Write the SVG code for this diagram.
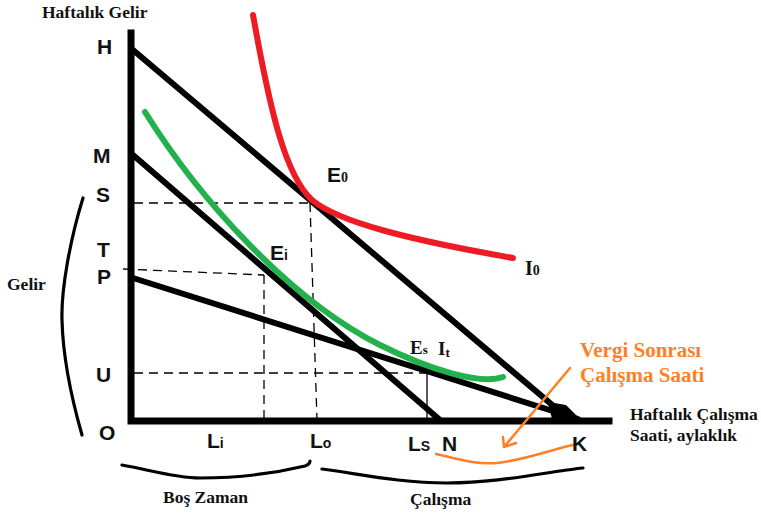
<svg xmlns="http://www.w3.org/2000/svg" width="761" height="517" viewBox="0 0 761 517">
<style>
.ax{stroke:#000;stroke-width:7;fill:none;stroke-linecap:square}
.bl{stroke:#000;stroke-width:6;fill:none;stroke-linecap:round}
.dash{stroke:#000;stroke-width:1.3;stroke-dasharray:9 6;fill:none}
.thin{stroke:#000;stroke-width:1.3;fill:none}
.brace{stroke:#000;stroke-width:3.2;fill:none;stroke-linecap:round}
.lbl{font-family:"Liberation Sans",Arial,sans-serif;font-weight:bold;font-size:21px;fill:#111}
.ser{font-family:"Liberation Serif","Times New Roman",serif;font-weight:bold;fill:#111}
.cap{font-size:17.5px}
.org{font-family:"Liberation Serif","Times New Roman",serif;font-weight:bold;font-size:21px;fill:#FF7F27}
.sub{font-size:14px}
</style>
<rect width="761" height="517" fill="#fff"/>
<g id="axes">
<path class="ax" d="M131,33 V421 H609"/>
</g>
<g id="guides">
<path class="dash" d="M134,203 H310"/>
<path class="dash" d="M310,203 L317,420"/>
<path class="dash" d="M123,269 L264,275"/>
<path class="dash" d="M264,275 V420"/>
<path class="dash" d="M134,373 H427"/>
<path class="thin" d="M427,373 V420"/>
</g>
<g id="connectors">
<path id="budget-H" class="bl" d="M133,50 L570,420"/>
<path id="budget-M" class="bl" d="M133,155 L440,420"/>
<path id="budget-P" class="bl" d="M133,278 L578,419"/>
<path d="M548,402 L566,405 L580,419 L552,419 Z" fill="#000"/>
<path id="I0" d="M253,15 C270,110 285,175 312,200 C338,222 410,240 513,258" fill="none" stroke="#ED1C24" stroke-width="6" stroke-linecap="round"/>
<path id="It" d="M145,112 C200,200 290,300 380,345 C430,370 480,385 503,377" fill="none" stroke="#22B14C" stroke-width="6" stroke-linecap="round"/>
<path id="arrow" d="M570,368 L504,447 M504,447 L503,437 M504,447 L516,443" fill="none" stroke="#FF7F27" stroke-width="2.5" stroke-linecap="round"/>
<path id="range" d="M436,454 C455,458 475,465 497,463 C525,460 550,450 573,445" fill="none" stroke="#FF7F27" stroke-width="2.5" stroke-linecap="round"/>
</g>
<g id="braces">
<path class="brace" d="M83,198 C70,240 61,290 62,320 C63,360 72,400 82,435"/>
<path class="brace" d="M122,465 C150,470 175,478 200,478 C240,478 280,472 305,466 Q310,464 310,461"/>
<path class="brace" d="M322,469 C360,474 400,483 447,483 C500,483 545,472 583,468"/>
</g>
<g id="labels">
<text class="ser cap" x="42" y="18">Haftalık Gelir</text>
<text class="lbl" x="97" y="54">H</text>
<text class="lbl" x="93" y="163">M</text>
<text class="lbl" x="96" y="202">S</text>
<text class="lbl" x="97" y="257">T</text>
<text class="lbl" x="97" y="284">P</text>
<text class="lbl" x="96" y="382">U</text>
<text class="lbl" x="99" y="440">O</text>
<text class="ser cap" x="7" y="290">Gelir</text>
<text class="lbl" x="207" y="448">L<tspan class="sub">i</tspan></text>
<text class="lbl" x="310" y="448">L<tspan class="sub">o</tspan></text>
<text class="lbl" x="408" y="451">L<tspan class="sub">S</tspan></text>
<text class="lbl" x="442" y="451">N</text>
<text class="lbl" x="572" y="451">K</text>
<text class="lbl" x="327" y="182" font-size="20">E<tspan class="ser" font-size="14">0</tspan></text>
<text class="lbl" x="270" y="260" font-size="20">E<tspan class="sub">i</tspan></text>
<text class="ser" x="410" y="354" font-size="19">E<tspan font-size="13">s</tspan></text>
<text class="ser" x="438" y="355" font-size="19">I<tspan font-size="13" dy="2">t</tspan></text>
<text class="ser" x="525" y="275" font-size="20">I<tspan font-size="14">0</tspan></text>
<text class="ser cap" x="630" y="420">Haftalık Çalışma</text>
<text class="ser cap" x="630" y="441">Saati, aylaklık</text>
<text class="org" x="580" y="357">Vergi Sonrası</text>
<text class="org" x="580" y="382">Çalışma Saati</text>
<text class="ser cap" x="163" y="503">Boş Zaman</text>
<text class="ser cap" x="410" y="505">Çalışma</text>
</g>
</svg>
